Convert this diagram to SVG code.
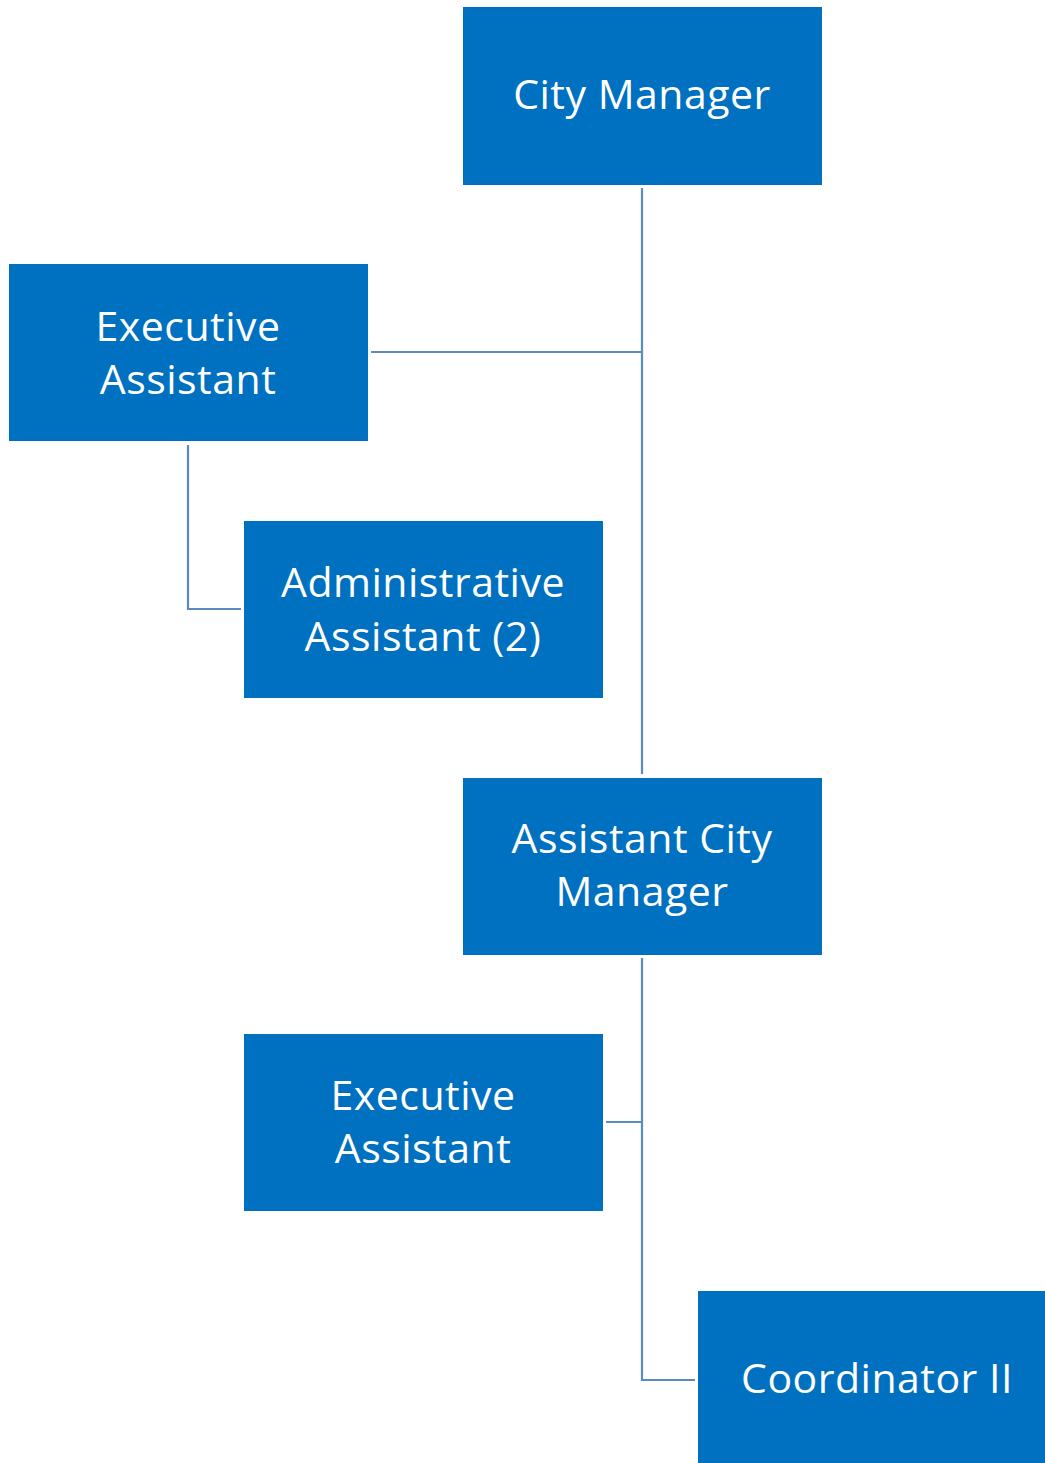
<svg xmlns="http://www.w3.org/2000/svg" width="1045" height="1463" viewBox="0 0 1045 1463">
<style>
.box{fill:#0070C0}
.lbl{fill:#FFFFFF;font-family:"Open Sans","Noto Sans","Liberation Sans",sans-serif;font-size:41px;letter-spacing:0.5px;text-anchor:middle}
.conn{fill:none;stroke:#5B8BC0;stroke-width:2.2}
</style>
<rect width="1045" height="1463" fill="#FFFFFF"/>
<g id="connectors">
<path class="conn" d="M642,188 V774"/>
<path class="conn" d="M371,352 H642"/>
<path class="conn" d="M188,445 V609 H241"/>
<path class="conn" d="M642,958 V1380 H695"/>
<path class="conn" d="M606,1122 H642"/>
</g>
<g id="city-manager">
<rect class="box" x="463" y="7" width="359" height="178"/>
<text class="lbl" x="642" y="109">City Manager</text>
</g>
<g id="executive-assistant-1">
<rect class="box" x="9" y="264" width="359" height="177"/>
<text class="lbl" x="188" y="341">Executive</text>
<text class="lbl" x="188" y="394">Assistant</text>
</g>
<g id="administrative-assistant">
<rect class="box" x="244" y="521" width="359" height="177"/>
<text class="lbl" x="423" y="597">Administrative</text>
<text class="lbl" x="423" y="651">Assistant (2)</text>
</g>
<g id="assistant-city-manager">
<rect class="box" x="463" y="778" width="359" height="177"/>
<text class="lbl" x="642" y="853">Assistant City</text>
<text class="lbl" x="642" y="906">Manager</text>
</g>
<g id="executive-assistant-2">
<rect class="box" x="244" y="1034" width="359" height="177"/>
<text class="lbl" x="423" y="1110">Executive</text>
<text class="lbl" x="423" y="1163">Assistant</text>
</g>
<g id="coordinator-ii">
<rect class="box" x="698" y="1291" width="347" height="172"/>
<text class="lbl" x="877" y="1393">Coordinator II</text>
</g>
</svg>
